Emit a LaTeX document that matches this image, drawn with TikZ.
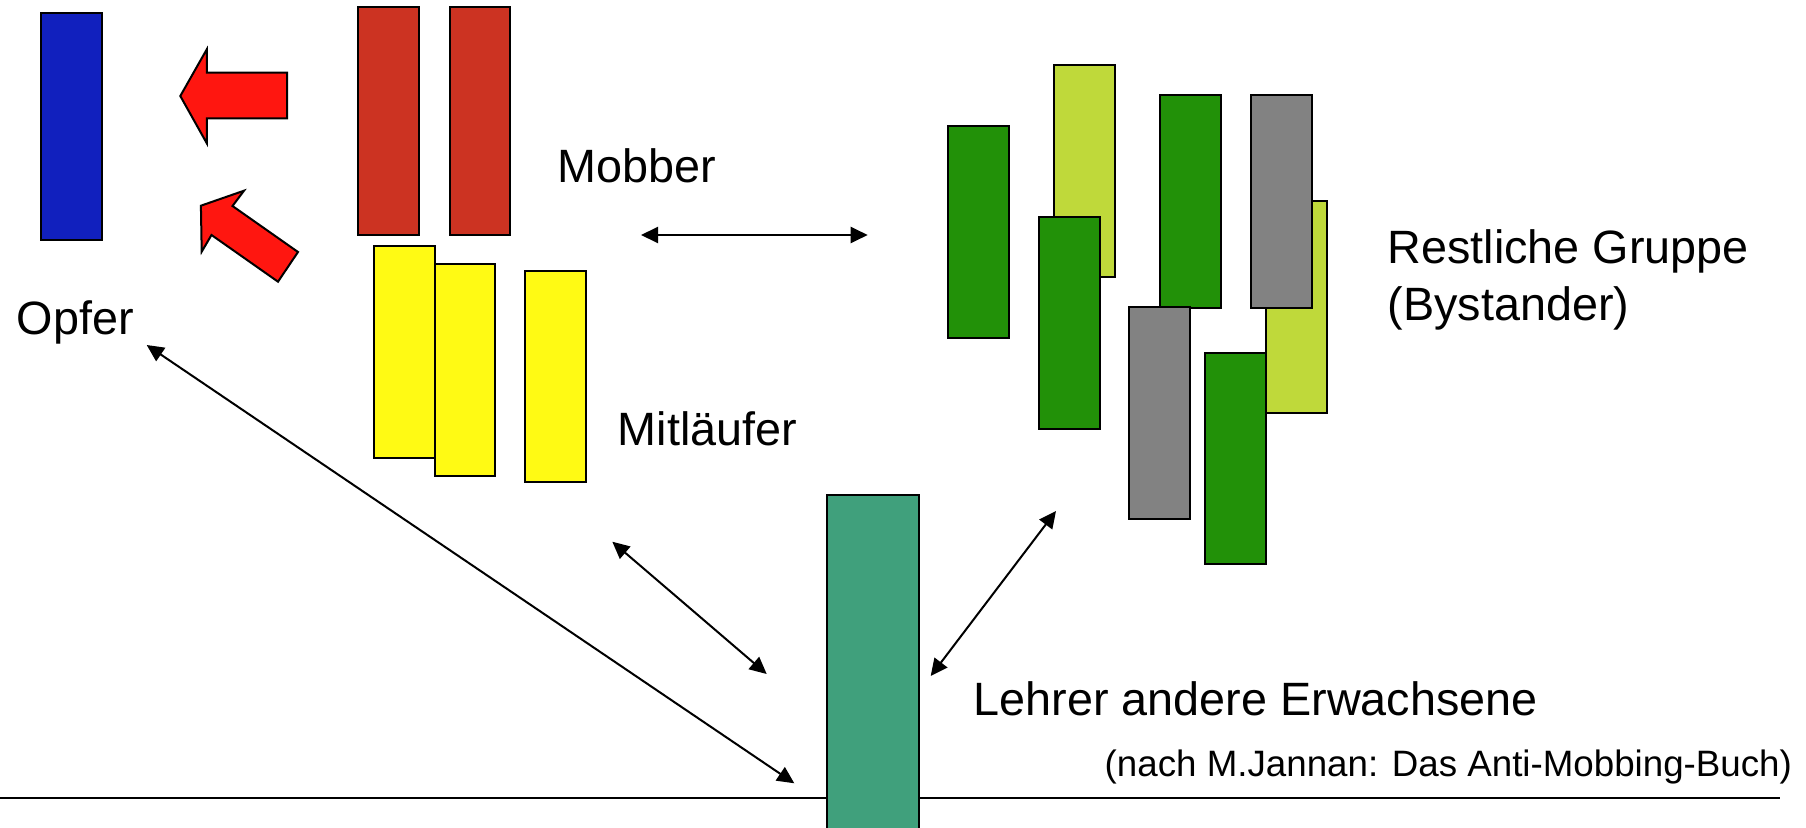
\documentclass[tikz,border=0pt]{standalone}
\usepackage{fontspec}
\setmainfont{Liberation Sans}
\usetikzlibrary{arrows.meta}
\definecolor{cBlue}{RGB}{17,32,190}
\definecolor{cRed}{RGB}{204,51,34}
\definecolor{cArrow}{RGB}{255,22,16}
\definecolor{cYel}{RGB}{255,250,20}
\definecolor{cGrn}{RGB}{34,145,8}
\definecolor{cLgr}{RGB}{191,217,58}
\definecolor{cGry}{RGB}{130,130,130}
\definecolor{cTeal}{RGB}{64,160,124}
\newcommand{\pbox}[6]{\node[pbx, fill=#6, minimum width={(#4-#2)*0.1mm}, minimum height={(#5-#3)*0.1mm}] (#1) at (#2,#3) {};}
\begin{document}
\begin{tikzpicture}[x=0.1mm,y=-0.1mm,
  pbx/.style={draw=black, line width=0.22mm, inner sep=0pt, outer sep=0pt, anchor=north west},
  lbl/.style={anchor=base west, inner sep=0pt, font=\fontsize{13.3}{16}\selectfont},
  small/.style={anchor=base west, inner sep=0pt, font=\fontsize{10.45}{12}\selectfont},
  dbl/.style={{Triangle[length=1.7mm,width=1.6mm]}-{Triangle[length=1.7mm,width=1.6mm]}, line width=0.2mm},
  redarrow/.style={draw=black, line width=0.2mm, fill=cArrow, line join=miter}]
\useasboundingbox (0,0) rectangle (1806,828);
\clip (0,0) rectangle (1806,828);
% victim
\pbox{opfer}{41}{13}{102}{240}{cBlue}
% mobbers
\pbox{mob1}{358}{7}{419}{235}{cRed}
\pbox{mob2}{450}{7}{510}{235}{cRed}
% followers
\pbox{mit1}{374}{246}{435}{458}{cYel}
\pbox{mit2}{435}{264}{495}{476}{cYel}
\pbox{mit3}{525}{271}{586}{482}{cYel}
% bystanders
\pbox{lg1}{1054}{65}{1115}{277}{cLgr}
\pbox{lg2}{1266}{201}{1327}{413}{cLgr}
\pbox{g1}{948}{126}{1009}{338}{cGrn}
\pbox{g2}{1039}{217}{1100}{429}{cGrn}
\pbox{g3}{1160}{95}{1221}{308}{cGrn}
\pbox{gy1}{1251}{95}{1312}{308}{cGry}
\pbox{gy2}{1129}{307}{1190}{519}{cGry}
\pbox{g4}{1205}{353}{1266}{564}{cGrn}
% red arrows
\draw[redarrow] (180.3,96) -- (206.8,49.3) -- (206.8,72.7) -- (287,72.7) -- (287,118.3) -- (206.8,118.3) -- (206.8,143.3) -- cycle;
\draw[redarrow] (200.9,205.7) -- (244,190.7) -- (232.5,206) -- (298,252) -- (278,281.7) -- (211.5,235) -- (201.7,251.7) -- cycle;
% ground line and teacher
\coordinate (hl) at (0,798);
\coordinate (hr) at (1780,798);
\draw[line width=0.2mm] (hl) -- (hr);
\pbox{lehrer}{827}{495}{919}{850}{cTeal}
% labels
\node[lbl] (topfer) at (16,334) {Opfer};
\node[lbl] (tmob) at (557,182) {Mobber};
\node[lbl] (tmit) at (617,445) {Mitläufer};
\node[lbl] (trest) at (1387,263) {Restliche Gruppe};
\node[lbl] (tby) at (1387,320) {(Bystander)};
\node[lbl] (tlehr) at (973,715) {Lehrer andere Erwachsene};
\node[small] (tsrc) at (1104,776) {(nach M.Jannan: Das Anti-Mobbing-Buch)};
% relation arrows
\coordinate (a1) at (641,235);
\coordinate (a2) at (867.7,235);
\coordinate (b1) at (146.7,345);
\coordinate (b2) at (794.3,783.3);
\coordinate (c1) at (612.3,541.7);
\coordinate (c2) at (766.7,674);
\coordinate (d1) at (1056,511);
\coordinate (d2) at (930.7,676);
\draw[dbl] (a1) -- (a2);
\draw[dbl] (b1) -- (b2);
\draw[dbl] (c1) -- (c2);
\draw[dbl] (d1) -- (d2);
\end{tikzpicture}
\end{document}
